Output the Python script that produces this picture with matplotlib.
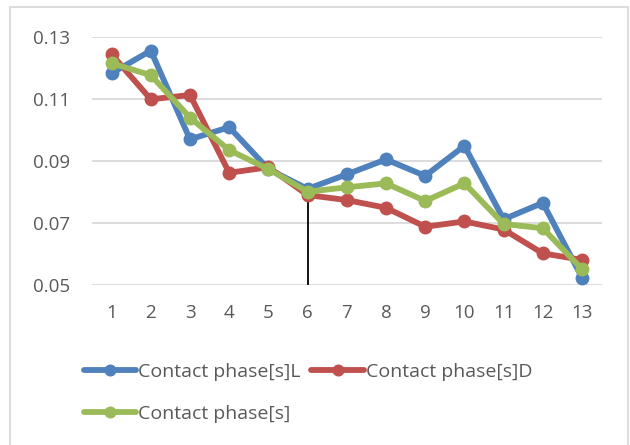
import numpy as np
import matplotlib.pyplot as plt
from matplotlib.patches import Rectangle

# series values per trial
trials = list(range(1, 14))
phase_l = [0.1183, 0.1256, 0.0970, 0.1009, 0.0874, 0.0810, 0.0857, 0.0905, 0.0852, 0.0949, 0.0712, 0.0765, 0.0524]
phase_d = [0.1244, 0.1099, 0.1113, 0.0862, 0.0880, 0.0790, 0.0774, 0.0749, 0.0688, 0.0705, 0.0679, 0.0602, 0.0581]
phase_all = [0.1215, 0.1177, 0.1040, 0.0935, 0.0874, 0.0801, 0.0815, 0.0828, 0.0771, 0.0828, 0.0697, 0.0683, 0.0551]
y_ticks = [0.05, 0.07, 0.09, 0.11, 0.13]
marker_trial = 6

plt.rcParams['font.family'] = ['Open Sans', 'DejaVu Sans']
text_col = '#595959'

fig = plt.figure(figsize=(6.3, 4.45), dpi=100)
ax = fig.add_axes([92 / 630, 1 - 285 / 445, (601.6 - 92) / 630, (285 - 37) / 445])

series = [
    (phase_l, '#4F81BD', 'Contact phase[s]L'),
    (phase_d, '#C0504D', 'Contact phase[s]D'),
    (phase_all, '#9BBB59', 'Contact phase[s]'),
]
lines = []
for vals, col, name in series:
    ln, = ax.plot(trials, vals, color=col, lw=4.2, marker='o', ms=9,
                  solid_joinstyle='round', solid_capstyle='round', label=name)
    lines.append(ln)

# single marker line down to the axis floor
ax.vlines(marker_trial, y_ticks[0], phase_d[trials.index(marker_trial)],
          color='black', lw=1.3, zorder=1)

ax.set_xlim(0.5, 13.5)
ax.set_ylim(y_ticks[0], y_ticks[-1])
ax.set_xticks(trials)
ax.set_yticks(y_ticks)
ax.set_yticklabels([f'{v:.2f}' for v in y_ticks])
ax.tick_params(axis='both', length=0, labelsize=13.5, labelcolor=text_col)
ax.tick_params(axis='y', pad=16)
ax.tick_params(axis='x', pad=14)
ax.grid(axis='y', color='#D9D9D9', lw=1.3)
ax.set_axisbelow(True)
for sp in ax.spines.values():
    sp.set_visible(False)

# legend fills column-wise, so order handles to read L, D on the first row
order = [lines[0], lines[2], lines[1]]
fig.legend(handles=order, labels=[l.get_label() for l in order],
           loc='upper left', bbox_to_anchor=(76 / 630, 1 - 355 / 445), ncol=2,
           frameon=False, fontsize=14, labelcolor=text_col, markerscale=0.85,
           handlelength=2.7, handletextpad=0.1, columnspacing=0.55,
           labelspacing=1.25, borderaxespad=0)

# outer chart frame
fig.patches.append(Rectangle((10 / 630, -0.05), 618 / 630, 1.05 - 7 / 445,
                             transform=fig.transFigure, fill=False,
                             edgecolor='#D9D9D9', lw=1.3))

fig.savefig('out.png', dpi=100)
